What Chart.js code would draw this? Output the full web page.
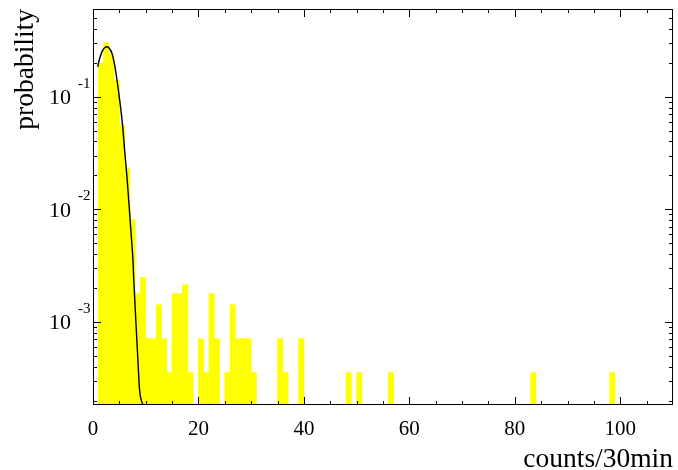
<!DOCTYPE html>
<html>
<head>
<meta charset="utf-8">
<script src="https://cdn.jsdelivr.net/npm/chart.js@4.4.0/dist/chart.umd.min.js"></script>
<style>
  html, body { margin: 0; padding: 0; background: #fff; }
  #wrap { width: 678px; height: 470px; }
</style>
</head>
<body>
<div id="wrap"><canvas id="histChart"></canvas></div>
<script>
// histogram: lower bin edge (bins are 1 count wide) and probability
const binEdges = [1, 2, 3, 4, 5, 6, 7, 8, 9, 10, 11, 12, 13, 14, 15, 16, 17, 18,
  20, 21, 22, 23, 25, 26, 27, 28, 29, 30, 35, 36, 39, 48, 50, 56, 83, 98];
const binProb = [0.197, 0.300, 0.240, 0.139, 0.056, 0.0231, 0.0081, 0.00178, 0.00249,
  0.00071, 0.00071, 0.00142, 0.00071, 0.000355, 0.00178, 0.00178, 0.00213, 0.000355,
  0.00071, 0.000355, 0.00178, 0.00071, 0.000355, 0.00142, 0.00071, 0.00071, 0.00071,
  0.000355, 0.00071, 0.000355, 0.00071, 0.000355, 0.000355, 0.000355, 0.000355, 0.000355];

// fit curve, points
const fitX = [0.89, 1.27, 1.78, 2.22, 2.65, 3.16, 3.60, 4.11, 4.55, 5.06, 5.57, 6.0,
  6.44, 6.82, 7.27, 7.58, 7.71, 8.09, 8.52, 8.84, 9.28, 9.47];
const fitY = [0.184, 0.219, 0.255, 0.272, 0.277, 0.266, 0.242, 0.190, 0.140, 0.0931,
  0.0578, 0.0334, 0.0194, 0.01124, 0.00568, 0.00352, 0.0025, 0.0011, 0.000455,
  0.000246, 0.000194, 0.000183];

const xTicks = [0, 20, 40, 60, 80, 100];
const yDecades = [1e-3, 1e-2, 1e-1];
const yExponents = ['-3', '-2', '-1'];

const serif = '"Liberation Serif", "DejaVu Serif", serif';

// frame with inward ticks on all four sides plus the labels, ROOT style
const frame = {
  id: 'frame',
  afterDatasetsDraw(chart) {
    const { ctx, chartArea: a, scales: { x, y } } = chart;
    ctx.save();
    ctx.strokeStyle = '#000';
    ctx.lineWidth = 1;
    ctx.strokeRect(a.left + 0.5, a.top + 0.5, a.right - a.left - 1, a.bottom - a.top - 1);

    ctx.beginPath();
    for (let v = 5; v < x.max; v += 5) {
      const px = Math.round(x.getPixelForValue(v)) + 0.5;
      const len = v % 20 === 0 ? 8 : 4;
      ctx.moveTo(px, a.bottom); ctx.lineTo(px, a.bottom - len);
      ctx.moveTo(px, a.top); ctx.lineTo(px, a.top + len);
    }
    for (let d = -4; d <= 0; d++) {
      for (let m = 1; m <= 9; m++) {
        const v = m * Math.pow(10, d);
        if (v < y.min || v > y.max) continue;
        const py = Math.round(y.getPixelForValue(v)) + 0.5;
        const len = m === 1 ? 8 : 4;
        ctx.moveTo(a.left, py); ctx.lineTo(a.left + len, py);
        ctx.moveTo(a.right, py); ctx.lineTo(a.right - len, py);
      }
    }
    ctx.stroke();

    ctx.fillStyle = '#000';
    ctx.font = '21px ' + serif;
    ctx.textAlign = 'center';
    ctx.textBaseline = 'alphabetic';
    xTicks.forEach(v => ctx.fillText(String(v), x.getPixelForValue(v), 434.5));

    yDecades.forEach((v, i) => {
      const py = y.getPixelForValue(v);
      ctx.font = '22px ' + serif;
      ctx.textAlign = 'right';
      ctx.fillText('10', 71, py + 7.5);
      ctx.font = '15px ' + serif;
      ctx.textAlign = 'left';
      ctx.fillText(yExponents[i], 78, py - 9);
    });

    ctx.font = '27.5px ' + serif;
    ctx.textAlign = 'right';
    ctx.fillText('counts/30min', a.right, 467);

    ctx.translate(33, a.top);
    ctx.rotate(-Math.PI / 2);
    ctx.textAlign = 'right';
    ctx.fillText('probability', 0, 0);
    ctx.restore();
  }
};

new Chart(document.getElementById('histChart'), {
  type: 'bar',
  data: {
    datasets: [
      {
        type: 'line',
        data: fitX.map((v, i) => ({ x: v, y: fitY[i] })),
        borderColor: '#000',
        borderWidth: 1.4,
        pointRadius: 0,
        tension: 0.3,
        cubicInterpolationMode: 'monotone',
        order: 0
      },
      {
        type: 'bar',
        data: binEdges.map((v, i) => ({ x: v + 0.5, y: binProb[i] })),
        backgroundColor: '#ffff00',
        borderWidth: 0,
        barPercentage: 1,
        categoryPercentage: 1,
        order: 1
      }
    ]
  },
  options: {
    responsive: true,
    maintainAspectRatio: false,
    animation: false,
    layout: { padding: { left: 93, right: 5, top: 9, bottom: 65 } },
    plugins: { legend: { display: false }, tooltip: { enabled: false } },
    scales: {
      x: { type: 'linear', min: 0, max: 110, offset: false, display: false },
      y: { type: 'logarithmic', min: 1.83e-4, max: 0.5995, display: false }
    }
  },
  plugins: [frame]
});
</script>
</body>
</html>
